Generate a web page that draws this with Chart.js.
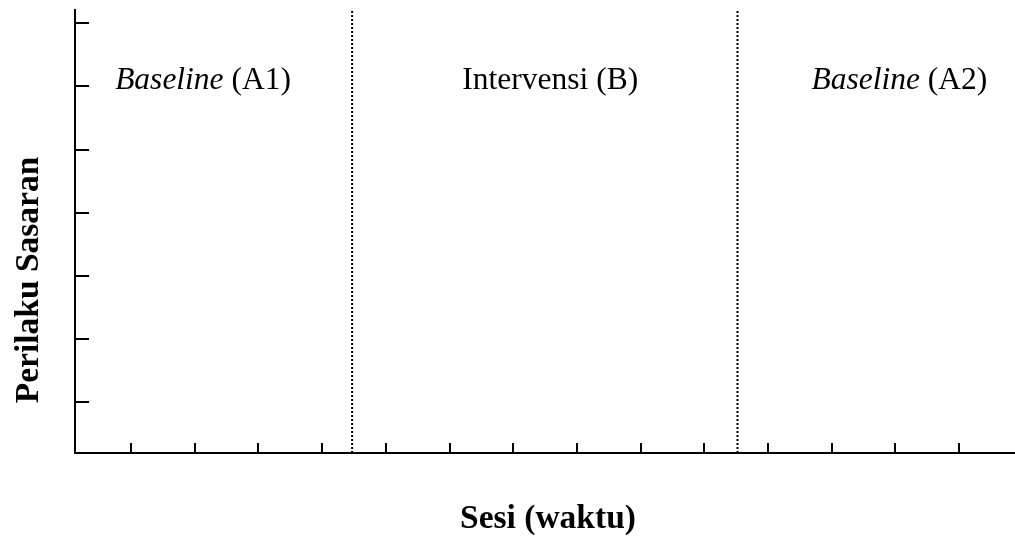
<!DOCTYPE html>
<html>
<head>
<meta charset="utf-8">
<script src="https://cdn.jsdelivr.net/npm/chart.js@4/dist/chart.umd.min.js"></script>
<style>
html,body{margin:0;padding:0;background:#fff;}
#wrap{width:1015px;height:541px;position:relative;}
</style>
</head>
<body>
<div id="wrap"><canvas id="c" width="1015" height="541"></canvas></div>
<script>
// ---- data ----
const sessionTicks = [1,2,3,4,5,6,7,8,9,10,11,12,13,14];
const behaviorTicks = [1,2,3,4,5,6,7];
const phaseChanges = [4.47, 10.52];
const phaseNames = ['Baseline', 'Intervensi', 'Baseline'];
const phaseCodes = ['(A1)', '(B)', '(A2)'];
const phaseItalic = [true, false, true];
const phaseLabelX = [2.13, 7.58, 13.06];
const phaseLabelY = 5.96;
const xTitle = 'Sesi (waktu)';
const yTitle = 'Perilaku Sasaran';

const X_MIN = 0.12, X_MAX = 14.876;
const Y_MIN = 0.2, Y_MAX = 7.225;
const SERIF = '"Liberation Serif", "Times New Roman", serif';

const datasets = phaseChanges.map(v => ({
  data: [{x: v, y: Y_MIN}, {x: v, y: Y_MAX}],
  borderColor: '#000',
  borderWidth: 2,
  borderDash: [2, 2],
  pointRadius: 0,
  showLine: true,
  fill: false
}));

const axesPlugin = {
  id: 'axesPlugin',
  afterDraw(chart) {
    const ctx = chart.ctx;
    const xs = chart.scales.x, ys = chart.scales.y;
    const x0 = xs.getPixelForValue(X_MIN), x1 = xs.getPixelForValue(X_MAX);
    const y0 = ys.getPixelForValue(Y_MIN), y1 = ys.getPixelForValue(Y_MAX);
    ctx.save();
    ctx.strokeStyle = '#000';
    ctx.lineWidth = 2;
    ctx.lineCap = 'butt';
    // axes
    ctx.beginPath();
    ctx.moveTo(x0, y1); ctx.lineTo(x0, y0 + 1);
    ctx.moveTo(x0 - 1, y0); ctx.lineTo(x1, y0);
    ctx.stroke();
    // x ticks (inward, upward)
    ctx.beginPath();
    sessionTicks.forEach(v => {
      const px = Math.round(xs.getPixelForValue(v));
      ctx.moveTo(px, y0); ctx.lineTo(px, y0 - 10);
    });
    // y ticks (inward, rightward)
    behaviorTicks.forEach(v => {
      const py = Math.round(ys.getPixelForValue(v));
      ctx.moveTo(x0, py); ctx.lineTo(x0 + 14, py);
    });
    ctx.stroke();

    // phase labels
    ctx.fillStyle = '#000';
    ctx.textBaseline = 'alphabetic';
    const fs = 31.5;
    phaseNames.forEach((name, i) => {
      const f1 = (phaseItalic[i] ? 'italic ' : '') + fs + 'px ' + SERIF;
      const f2 = fs + 'px ' + SERIF;
      ctx.font = f1;
      const w1 = ctx.measureText(name).width;
      ctx.font = f2;
      const sp = ctx.measureText(' ').width;
      const w2 = ctx.measureText(phaseCodes[i]).width;
      const total = w1 + sp + w2;
      const cx = xs.getPixelForValue(phaseLabelX[i]);
      const by = ys.getPixelForValue(phaseLabelY);
      let sx = cx - total / 2;
      ctx.textAlign = 'left';
      ctx.font = f1;
      ctx.fillText(name, sx, by);
      ctx.font = f2;
      ctx.fillText(phaseCodes[i], sx + w1 + sp, by);
    });

    // axis titles
    ctx.font = 'bold 33.5px ' + SERIF;
    ctx.textAlign = 'center';
    ctx.fillText(xTitle, 548, 528);
    ctx.save();
    ctx.translate(38, 280);
    ctx.rotate(-Math.PI / 2);
    ctx.fillText(yTitle, 0, 0);
    ctx.restore();
    ctx.restore();
  }
};

new Chart(document.getElementById('c'), {
  type: 'scatter',
  data: { datasets },
  options: {
    responsive: false,
    animation: false,
    events: [],
    layout: { padding: { left: 75, right: 0, top: 9, bottom: 88 } },
    plugins: { legend: { display: false }, tooltip: { enabled: false }, title: { display: false } },
    scales: {
      x: { type: 'linear', min: X_MIN, max: X_MAX, display: false },
      y: { type: 'linear', min: Y_MIN, max: Y_MAX, display: false }
    }
  },
  plugins: [axesPlugin]
});
</script>
</body>
</html>
